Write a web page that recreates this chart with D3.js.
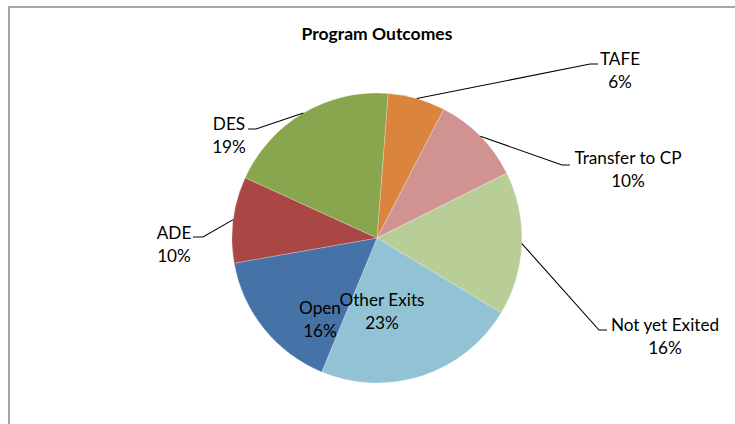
<!DOCTYPE html>
<html>
<head>
<meta charset="utf-8">
<script src="https://cdn.jsdelivr.net/npm/d3@7"></script>
<style>
  html, body { margin: 0; padding: 0; background: #fff; }
  svg { display: block; }
  text { font-family: Lato, "Open Sans", sans-serif; fill: #000; }
</style>
</head>
<body>
<svg id="chart" width="735" height="424"></svg>
<script>
// ---- data ----
const categories = ["TAFE", "Transfer to CP", "Not yet Exited", "Other Exits", "Open", "ADE", "DES"];
const values = [6.4, 10.0, 16.0, 22.6, 16.0, 9.6, 19.4];
const percentLabels = ["6%", "10%", "16%", "23%", "16%", "10%", "19%"];
const colors = ["#DB843D", "#D19392", "#B9CD96", "#92C3D5", "#4572A7", "#AA4643", "#89A54E"];
const title = "Program Outcomes";

// ---- layout ----
const W = 735, H = 424;
const cx = 377, cy = 238, R = 145;
const startOffset = 4.4 * Math.PI / 180;

const svg = d3.select("#chart");

// chart frame
svg.append("rect")
  .attr("x", 9).attr("y", 7)
  .attr("width", W + 20).attr("height", H + 20)
  .attr("fill", "none").attr("stroke", "#a6a6a6").attr("stroke-width", 2);

svg.append("text")
  .attr("x", cx).attr("y", 40)
  .attr("text-anchor", "middle")
  .attr("font-weight", "bold")
  .attr("font-size", 17.5)
  .text(title);

const data = categories.map((c, i) => ({ name: c, value: values[i], pct: percentLabels[i], color: colors[i] }));

const pie = d3.pie().value(d => d.value).sort(null)
  .startAngle(startOffset).endAngle(startOffset + 2 * Math.PI);
const arcs = pie(data);
const arc = d3.arc().innerRadius(0).outerRadius(R);

const g = svg.append("g").attr("transform", `translate(${cx},${cy})`);
g.selectAll("path.slice").data(arcs).enter().append("path")
  .attr("class", "slice")
  .attr("d", arc)
  .attr("fill", d => d.data.color)
  .attr("stroke", "#ffffff").attr("stroke-width", 0.4).attr("stroke-opacity", 0.6);

// label placement (layout, not data): text center + leader elbow per slice
const labelLayout = {
  "TAFE":           { tx: 620, ty: 59,  elbow: [590, 64], end: [598, 64] },
  "Transfer to CP": { tx: 628, ty: 158, elbow: [562, 165], end: [570, 165] },
  "Not yet Exited": { tx: 665, ty: 325, elbow: [599, 330], end: [607, 330] },
  "Other Exits":    { tx: 382, ty: 300, inside: true },
  "Open":           { tx: 320, ty: 308, inside: true },
  "ADE":            { tx: 174, ty: 233, elbow: [203, 237], end: [193, 237] },
  "DES":            { tx: 229, ty: 124, elbow: [256, 129], end: [248, 129] }
};

const lineGap = 23;
const fs = 17.2;
const lab = svg.append("g");
arcs.forEach(a => {
  const L = labelLayout[a.data.name];
  if (!L.inside) {
    const ang = (a.startAngle + a.endAngle) / 2;
    const px = cx + R * Math.sin(ang), py = cy - R * Math.cos(ang);
    lab.append("polyline")
      .attr("points", [[px, py], L.elbow, L.end].map(p => p.join(",")).join(" "))
      .attr("fill", "none").attr("stroke", "#000").attr("stroke-width", 1.1);
  }
  const t = lab.append("text").attr("text-anchor", "middle").attr("font-size", fs);
  t.append("tspan").attr("x", L.tx).attr("y", L.ty).attr("dy", "0.35em").text(a.data.name);
  t.append("tspan").attr("x", L.tx).attr("y", L.ty + lineGap).attr("dy", "0.35em").text(a.data.pct);
});
</script>
</body>
</html>
